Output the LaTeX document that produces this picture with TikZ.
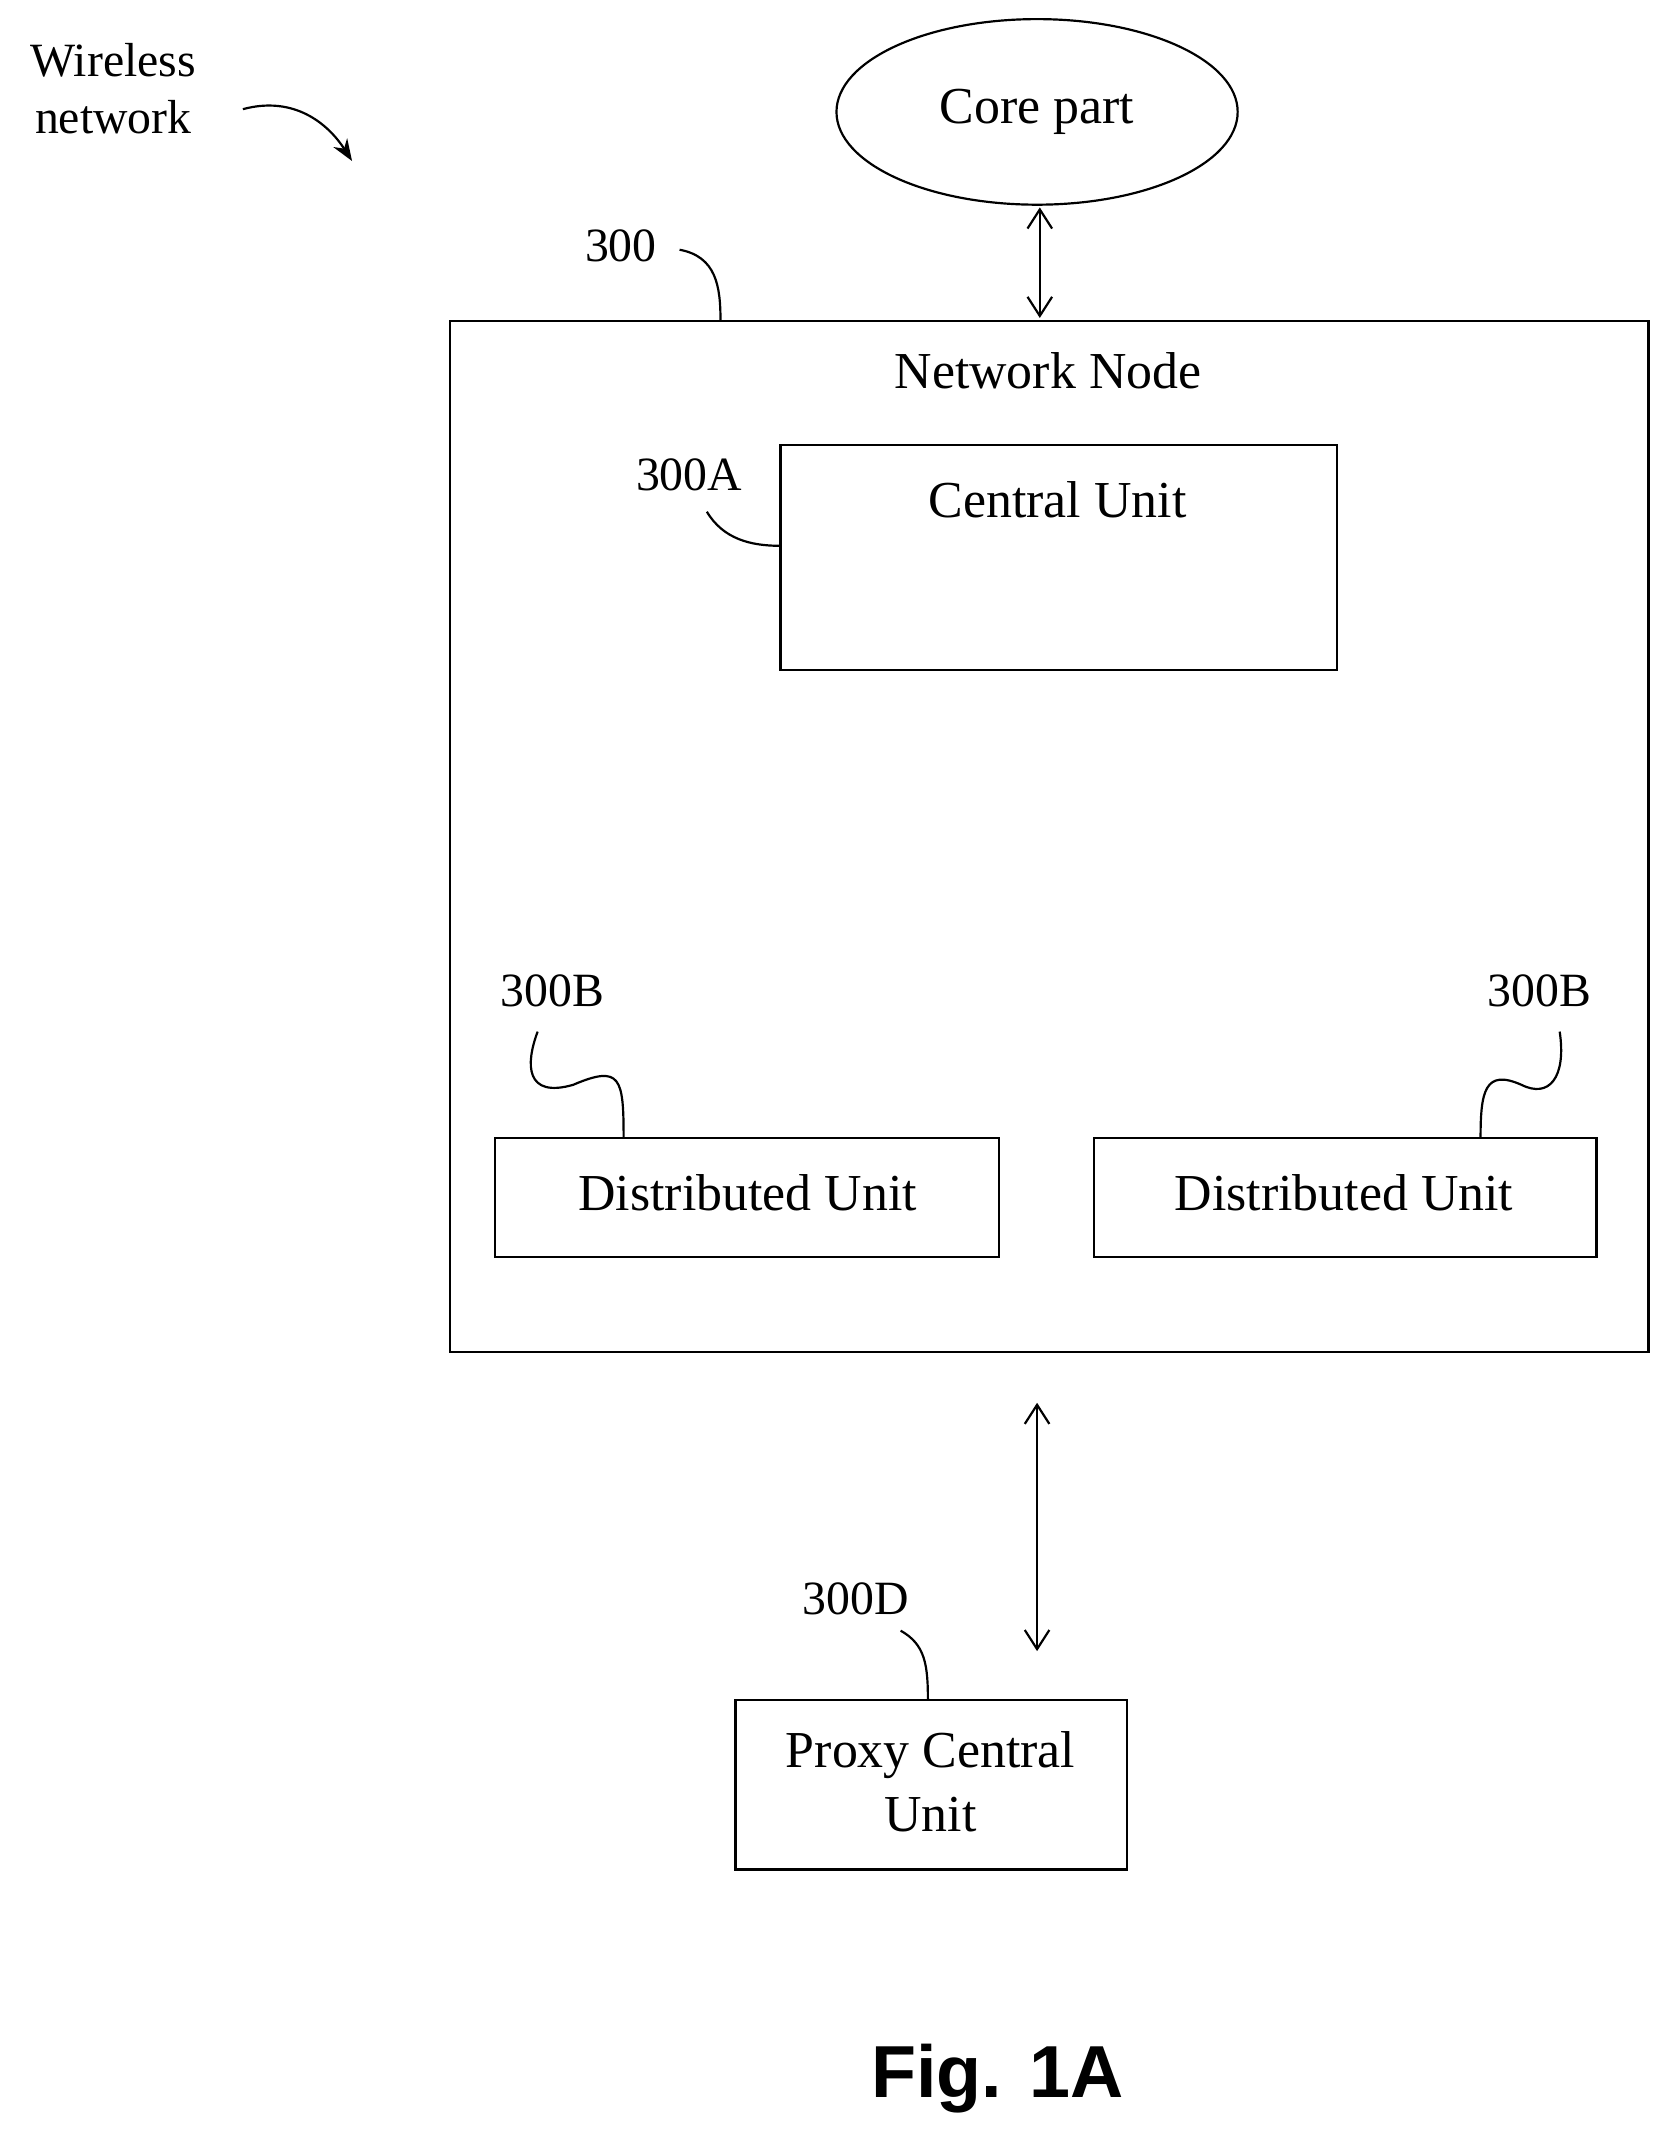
\documentclass[tikz,border=0pt]{standalone}
\usepackage{fontspec}
\setmainfont{Liberation Serif}
\newfontfamily\figfont{Liberation Sans}
\usetikzlibrary{shapes.geometric,arrows.meta}
\begin{document}
\begin{tikzpicture}[x=0.5pt,y=-0.5pt,
  box/.style={draw,line width=0.8pt,inner sep=0pt},
  txt/.style={font=\fontsize{19}{23.5}\selectfont,inner sep=0pt,align=center},
  lbl/.style={font=\fontsize{17.5}{21}\selectfont,inner sep=0pt,align=center},
  lead/.style={line width=0.8pt},
  dbl/.style={line width=0.8pt,{Straight Barb[length=7pt,width=9pt]}-{Straight Barb[length=7pt,width=9pt]}}]
\useasboundingbox (0,0) rectangle (1225,1569);
\node[draw,line width=0.8pt,ellipse,minimum width=147pt,minimum height=68pt,txt] (core) at (760,82) {Core part};
\draw[box] (330,235) rectangle (1208,991);
\coordinate (nnTop) at (762,233);
\coordinate (nnBot) at (760,1028);
\node[txt] (nn) at (768,272) {Network Node};
\draw[box] (572,326) rectangle (980,491);
\node[txt] (cu) at (775,366) {Central Unit};
\draw[box] (363,834) rectangle (732,921);
\node[txt] (du1) at (548,874) {Distributed Unit};
\draw[box] (802,834) rectangle (1170,921);
\node[txt] (du2) at (985,874) {Distributed Unit};
\draw[box] (539,1246) rectangle (826,1370);
\node[txt] (pcu) at (682,1306) {Proxy Central\\Unit};
\coordinate (coreB) at (762,152);
\coordinate (pcuT) at (760,1210);
\draw[dbl] (coreB) -- (nnTop);
\draw[dbl] (nnBot) -- (pcuT);
\node[lbl] (wn) at (83,65) {Wireless\\network};
\coordinate (wa) at (178,80); \coordinate (wb) at (258,118);
\draw[lead,-{Stealth[length=8pt,width=6pt]}] (wa) .. controls (215,70) and (240,90) .. (wb);
\node[lbl] (l300) at (455,180) {300};
\coordinate (a1) at (498,183); \coordinate (a2) at (528,235);
\draw[lead] (a1) .. controls (525,188) and (528,210) .. (a2);
\node[lbl] (l300a) at (505,348) {300A};
\coordinate (b1) at (518,375); \coordinate (b2) at (572,400);
\draw[lead] (b1) .. controls (530,395) and (550,400) .. (b2);
\node[lbl] (l300b1) at (405,726) {300B};
\coordinate (c1) at (394,756); \coordinate (c2) at (457,834);
\draw[lead] (c1) .. controls (385,780) and (385,805) .. (420,795) .. controls (455,780) and (457,790) .. (c2);
\node[lbl] (l300b2) at (1128,726) {300B};
\coordinate (d1) at (1143,756); \coordinate (d2) at (1085,834);
\draw[lead] (d1) .. controls (1148,790) and (1135,805) .. (1115,795) .. controls (1088,783) and (1085,800) .. (d2);
\node[lbl] (l300d) at (627,1172) {300D};
\coordinate (e1) at (660,1195); \coordinate (e2) at (680,1246);
\draw[lead] (e1) .. controls (678,1205) and (680,1220) .. (e2);
\node[inner sep=0pt,font=\figfont\bfseries\fontsize{27}{30}\selectfont] (fig) at (731,1523) {Fig. 1A};
\end{tikzpicture}
\end{document}
